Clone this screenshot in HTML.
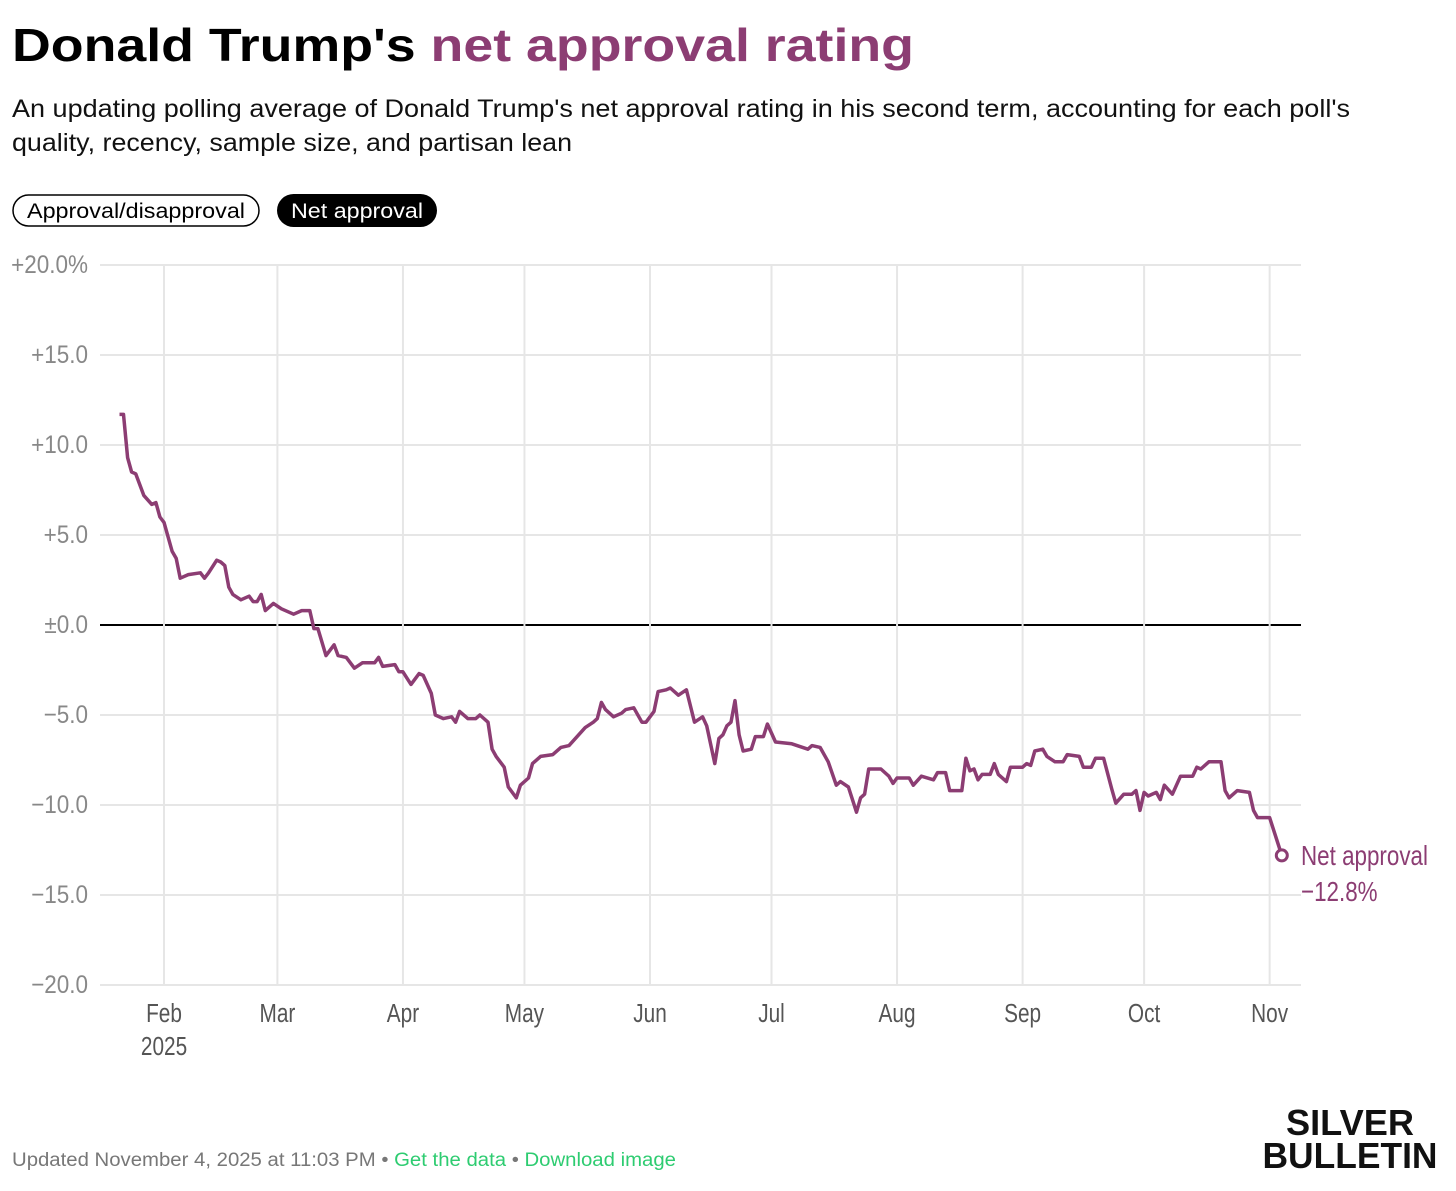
<!DOCTYPE html>
<html><head><meta charset="utf-8"><style>
body{margin:0;background:#fff;}
svg{display:block;}
text{font-family:"Liberation Sans",sans-serif;}
</style></head><body>
<svg id="chart" width="1456" height="1191" viewBox="0 0 1456 1191" xmlns="http://www.w3.org/2000/svg">
<text x="12" y="61" font-size="46" font-weight="bold" textLength="902" lengthAdjust="spacingAndGlyphs"><tspan fill="#000">Donald Trump's </tspan><tspan fill="#8c3d73">net approval rating</tspan></text>
<text x="12" y="117" font-size="25" fill="#111" textLength="1338" lengthAdjust="spacingAndGlyphs">An updating polling average of Donald Trump's net approval rating in his second term, accounting for each poll's</text>
<text x="12" y="151" font-size="25" fill="#111" textLength="560" lengthAdjust="spacingAndGlyphs">quality, recency, sample size, and partisan lean</text>
<g>
<rect x="13" y="195" width="246" height="31" rx="15.5" fill="#fff" stroke="#000" stroke-width="1.5"/>
<text x="136" y="218" font-size="21" text-anchor="middle" textLength="218" lengthAdjust="spacingAndGlyphs">Approval/disapproval</text>
</g>
<g>
<rect x="277" y="194" width="160" height="33" rx="16.5" fill="#000"/>
<text x="357" y="218" font-size="21" fill="#fff" text-anchor="middle" textLength="132" lengthAdjust="spacingAndGlyphs">Net approval</text>
</g>
<g id="grid"></g><g id="axes"></g><g id="series"></g>
<text x="12" y="1166" font-size="19" fill="#777" textLength="664" lengthAdjust="spacingAndGlyphs">Updated November 4, 2025 at 11:03 PM • <tspan fill="#2ecc71">Get the data</tspan> • <tspan fill="#2ecc71">Download image</tspan></text>
<text x="1350" y="1135" font-size="36" font-weight="bold" text-anchor="middle" fill="#111" textLength="128" lengthAdjust="spacingAndGlyphs">SILVER</text>
<text x="1350" y="1168" font-size="36" font-weight="bold" text-anchor="middle" fill="#111" textLength="175" lengthAdjust="spacingAndGlyphs">BULLETIN</text>
</svg>
<script>
const days=[20,21,22,23,24,26,28,29,30,31,33,34,35,37,40,41,42,44,45,46,47,48,50,52,53,54,55,56,58,60,63,65,67,68,69,71,73,74,76,78,80,83,84,85,88,89,90,92,94,95,97,98,100,102,103,104,106,108,109,111,112,113,115,116,118,119,121,122,124,127,129,131,133,135,137,138,139,140,142,144,145,147,149,150,152,153,155,156,158,160,162,164,165,167,168,169,170,171,172,173,174,176,177,179,180,182,186,190,191,193,195,197,198,200,202,203,204,205,208,210,211,212,215,216,218,221,222,224,225,228,229,230,231,232,233,235,236,237,239,240,243,244,245,246,248,249,251,253,254,257,258,260,261,263,265,266,268,270,271,272,273,274,276,277,278,280,282,285,286,287,289,292,293,294,296,299,300,301,304,307];
const values=[11.7,11.7,9.3,8.5,8.4,7.2,6.7,6.8,6.0,5.7,4.1,3.7,2.6,2.8,2.9,2.6,2.9,3.6,3.5,3.3,2.1,1.7,1.4,1.6,1.3,1.3,1.7,0.8,1.2,0.9,0.6,0.8,0.8,-0.2,-0.2,-1.7,-1.1,-1.7,-1.8,-2.4,-2.1,-2.1,-1.8,-2.3,-2.2,-2.6,-2.6,-3.3,-2.7,-2.8,-3.8,-5.0,-5.2,-5.1,-5.4,-4.8,-5.2,-5.2,-5.0,-5.4,-6.9,-7.3,-7.9,-9.0,-9.6,-8.9,-8.5,-7.7,-7.3,-7.2,-6.8,-6.7,-6.2,-5.7,-5.4,-5.2,-4.3,-4.7,-5.1,-4.9,-4.7,-4.6,-5.4,-5.4,-4.8,-3.7,-3.6,-3.5,-3.9,-3.6,-5.4,-5.1,-5.6,-7.7,-6.3,-6.1,-5.6,-5.4,-4.2,-6.1,-7.0,-6.9,-6.2,-6.2,-5.5,-6.5,-6.6,-6.9,-6.7,-6.8,-7.6,-8.9,-8.7,-9.0,-10.4,-9.6,-9.4,-8.0,-8.0,-8.4,-8.8,-8.5,-8.5,-8.9,-8.4,-8.6,-8.2,-8.2,-9.2,-9.2,-7.4,-8.1,-8.0,-8.6,-8.3,-8.3,-7.7,-8.3,-8.7,-7.9,-7.9,-7.7,-7.8,-7.0,-6.9,-7.3,-7.6,-7.6,-7.2,-7.3,-7.9,-7.9,-7.4,-7.4,-9.1,-9.9,-9.4,-9.4,-9.2,-10.3,-9.3,-9.5,-9.3,-9.7,-8.9,-9.4,-8.4,-8.4,-7.9,-8.0,-7.6,-7.6,-9.2,-9.6,-9.2,-9.3,-10.3,-10.7,-10.7,-12.8];
const yTicks=[20,15,10,5,0,-5,-10,-15,-20];
const yTickLabels=["+20.0%","+15.0","+10.0","+5.0","±0.0","\u22125.0","\u221210.0","\u221215.0","\u221220.0"];
const monthDays=[31,59,90,120,151,181,212,243,273,304];
const monthLabels=["Feb","Mar","Apr","May","Jun","Jul","Aug","Sep","Oct","Nov"];
const NS="http://www.w3.org/2000/svg";
const xs=d=>164+(d-31)*4.05;
const ys=v=>625-v*18;
function mk(tag,parent,attrs){const e=document.createElementNS(NS,tag);for(const k in attrs)e.setAttribute(k,attrs[k]);parent.appendChild(e);return e;}
const grid=document.getElementById('grid'),axes=document.getElementById('axes'),series=document.getElementById('series');
yTicks.forEach((t,i)=>{
  const l=mk('line',grid,{x1:100,x2:1301,y1:ys(t),y2:ys(t),stroke:t===0?'#000':'#e6e6e6','stroke-width':2});
  
  
  const tx=mk('text',axes,{x:0,y:0,transform:`translate(88,${ys(t)+8}) scale(0.9,1)`,'font-size':25,fill:'#888','text-anchor':'end'});
  
  
  tx.textContent=yTickLabels[i];
});
monthDays.forEach((d,i)=>{
  const l=mk('line',grid,{x1:xs(d),x2:xs(d),y1:265,y2:985,stroke:'#e6e6e6','stroke-width':2});
  
  
  const tx=mk('text',axes,{x:0,y:0,transform:`translate(${xs(d)},1022) scale(0.8,1)`,'font-size':26,fill:'#555','text-anchor':'middle'});
  
  
  tx.textContent=monthLabels[i];
});
const yr=mk('text',axes,{x:0,y:0,transform:`translate(${xs(31)},1055) scale(0.8,1)`,'font-size':26,fill:'#555','text-anchor':'middle'});


yr.textContent="2025";
const pts=days.map((d,i)=>xs(d).toFixed(1)+','+ys(values[i]).toFixed(1)).join(' ');
const line=mk('polyline',series,{points:pts,fill:'none',stroke:'#8c3d73','stroke-width':3.5,'stroke-linejoin':'round'});


const ld=days[days.length-1],lv=values[values.length-1];
const dot=mk('circle',series,{cx:xs(ld),cy:ys(lv),r:5.5,fill:'#fff',stroke:'#8c3d73','stroke-width':3});


const lab=mk('text',series,{x:0,y:0,transform:'translate(1301,865) scale(0.8,1)','font-size':28,fill:'#8c3d73'});


lab.textContent="Net approval";
const val=mk('text',series,{x:0,y:0,transform:'translate(1301,901) scale(0.8,1)','font-size':28,fill:'#8c3d73'});


val.textContent="\u2212"+Math.abs(lv).toFixed(1)+"%";
</script>
</body></html>
